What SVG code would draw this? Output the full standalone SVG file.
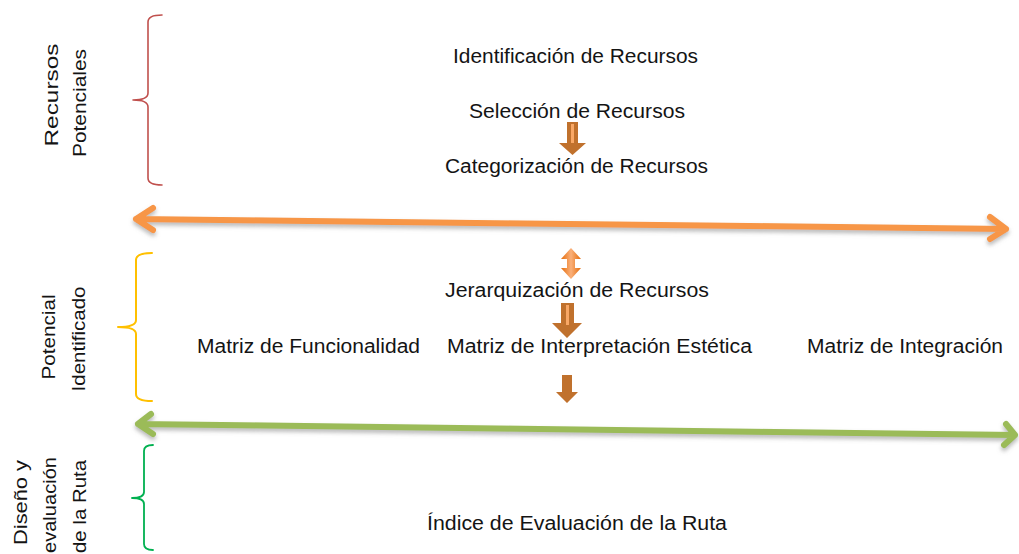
<svg xmlns="http://www.w3.org/2000/svg" width="1019" height="554" viewBox="0 0 1019 554">
<defs>
<filter id="sh" x="-5%" y="-100%" width="110%" height="300%">
<feDropShadow dx="0" dy="3" stdDeviation="2" flood-color="#808080" flood-opacity="0.55"/>
</filter>
<linearGradient id="og" x1="0" y1="0" x2="1" y2="0">
<stop offset="0" stop-color="#E46C0A"/>
<stop offset="0.5" stop-color="#FAB07A"/>
<stop offset="1" stop-color="#E46C0A"/>
</linearGradient>
</defs>
<style>
text{font-family:"Liberation Sans",Arial,sans-serif;fill:#141414}
.h{font-size:19.5px}
.v{font-size:19px}
.brace{fill:none;stroke-linecap:round;stroke-linejoin:round}
.da{fill:none;stroke-width:6;stroke-linecap:round;stroke-linejoin:round}
.blk{fill:#C0712D}
.stripe{fill:#F9A866}
</style>
<g id="labels">
<g id="lbl-recursos">
<text class="v" transform="translate(58,95) rotate(-90)" text-anchor="middle" textLength="103" lengthAdjust="spacingAndGlyphs">Recursos</text>
<text class="v" transform="translate(86,103) rotate(-90)" text-anchor="middle" textLength="108" lengthAdjust="spacingAndGlyphs">Potenciales</text>
</g>
<g id="lbl-potencial">
<text class="v" transform="translate(55,337) rotate(-90)" text-anchor="middle" textLength="85" lengthAdjust="spacingAndGlyphs">Potencial</text>
<text class="v" transform="translate(85,339) rotate(-90)" text-anchor="middle" textLength="105" lengthAdjust="spacingAndGlyphs">Identificado</text>
</g>
<g id="lbl-diseno">
<text class="v" transform="translate(27,460) rotate(-90)" text-anchor="end" textLength="85" lengthAdjust="spacingAndGlyphs">Diseño y</text>
<text class="v" transform="translate(56,457) rotate(-90)" text-anchor="end" textLength="96" lengthAdjust="spacingAndGlyphs">evaluación</text>
<text class="v" transform="translate(86,460) rotate(-90)" text-anchor="end" textLength="93" lengthAdjust="spacingAndGlyphs">de la Ruta</text>
</g>
</g>
<g id="braces">
<path class="brace" stroke="#C0504D" stroke-width="1.6" d="M162,15 Q148,15 148,22 L148,93 Q148,100 133,100 Q148,100 148,107 L148,178 Q148,185 162,185"/>
<path class="brace" stroke="#FFC000" stroke-width="2" d="M152,253 Q136,253 136,260 L136,320 Q136,327 118,327 Q136,327 136,334 L136,394 Q136,401 152,401"/>
<path class="brace" stroke="#00B050" stroke-width="1.8" d="M153,445 Q144,445 144,451 L144,492 Q144,498 132,498 Q144,498 144,504 L144,544 Q144,550 153,550"/>
</g>
<g id="n-identificacion"><text class="h" x="453" y="63" textLength="245" lengthAdjust="spacingAndGlyphs">Identificación de Recursos</text></g>
<g id="n-seleccion"><text class="h" x="469" y="118" textLength="216" lengthAdjust="spacingAndGlyphs">Selección de Recursos</text></g>
<g id="n-categorizacion"><text class="h" x="445" y="173" textLength="263" lengthAdjust="spacingAndGlyphs">Categorización de Recursos</text></g>
<g id="n-jerarquizacion"><text class="h" x="445" y="297" textLength="264" lengthAdjust="spacingAndGlyphs">Jerarquización de Recursos</text></g>
<g id="n-funcionalidad"><text class="h" x="197" y="353" textLength="223" lengthAdjust="spacingAndGlyphs">Matriz de Funcionalidad</text></g>
<g id="n-interpretacion"><text class="h" x="447" y="353" textLength="305" lengthAdjust="spacingAndGlyphs">Matriz de Interpretación Estética</text></g>
<g id="n-integracion"><text class="h" x="807" y="353" textLength="196" lengthAdjust="spacingAndGlyphs">Matriz de Integración</text></g>
<g id="n-indice"><text class="h" x="427" y="530" textLength="300" lengthAdjust="spacingAndGlyphs">Índice de Evaluación de la Ruta</text></g>
<g id="connectors">
<g filter="url(#sh)">
<path class="da" stroke="#F79646" d="M136,219 L1006,229 M153,208 L136,219 L153,230 M990,217 L1006,229 L990,239"/>
</g>
<g filter="url(#sh)">
<path class="da" stroke="#9BBB59" d="M138,424 L1015,435 M151,414 L138,424 L153,434 M1006,424 L1015,435 L1004,445"/>
</g>
<g id="arrow-sel-cat">
<path class="blk" d="M567,122 L578,122 L578,143 L586,143 L572.5,155 L559,143 L567,143 Z"/>
<rect class="stripe" x="571" y="124" width="3" height="19"/>
</g>
<g id="arrow-double">
<path fill="url(#og)" d="M571,248 L581,259 L575,259 L575,268 L581,268 L571,279 L561,268 L567,268 L567,259 L561,259 Z"/>
</g>
<g id="arrow-jer-mat">
<path class="blk" d="M561,303 L574,303 L574,323 L582,323 L567,338 L552,323 L561,323 Z"/>
<rect class="stripe" x="566" y="305" width="3" height="20"/>
</g>
<g id="arrow-mat-ind">
<path class="blk" d="M562,375 L572,375 L572,392 L578,392 L567,403 L556,392 L562,392 Z"/>
</g>
</g>
</svg>
